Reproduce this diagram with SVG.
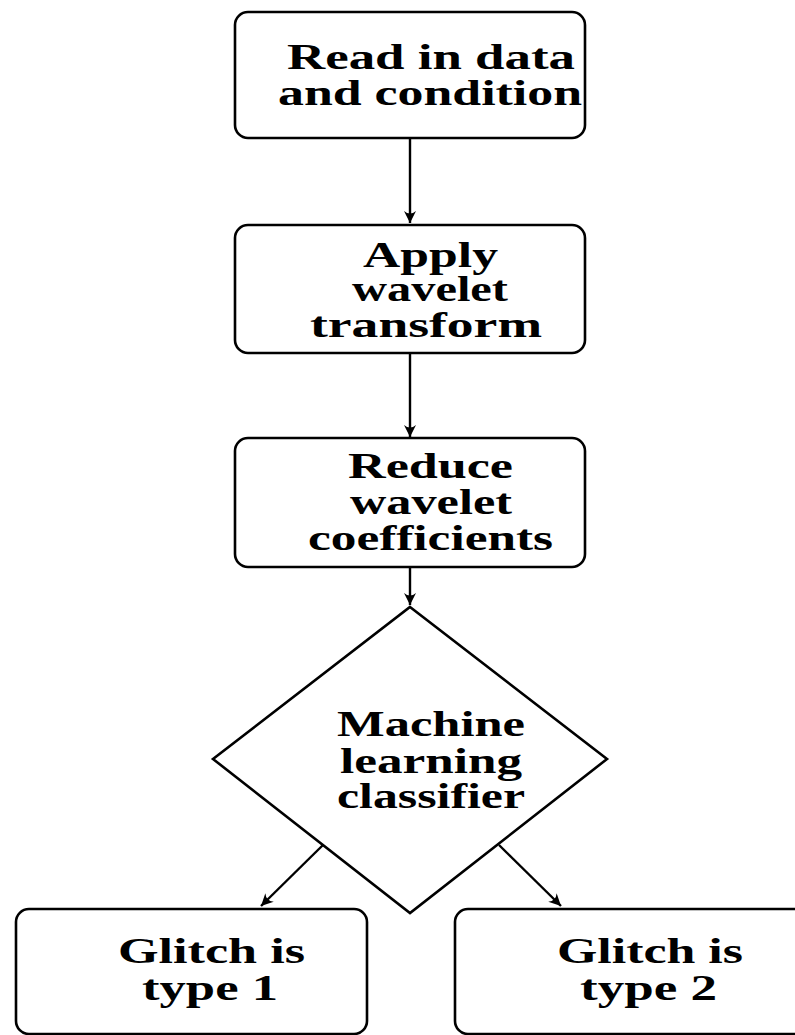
<svg xmlns="http://www.w3.org/2000/svg" width="795" height="1035" viewBox="0 0 795 1035">
<style>
.box{fill:#fff;stroke:#000;stroke-width:2.6}
.t{font-family:"Liberation Serif","Times New Roman",serif;font-weight:bold;font-size:35px;fill:#000}
.c{fill:none;stroke:#000;stroke-width:2.4}
</style>
<defs>
<marker id="ah" viewBox="-13 -7 14 14" markerWidth="14" markerHeight="14" refX="0" refY="0" orient="auto" markerUnits="userSpaceOnUse">
<path d="M0,0 L-12,-6 Q-7,0 -12,6 Z" fill="#000"/>
</marker>
</defs>
<rect width="795" height="1035" fill="#fff"/>
<g id="connectors">
<line class="c" x1="410" y1="138" x2="410" y2="223" marker-end="url(#ah)"/>
<line class="c" x1="410" y1="353" x2="410" y2="437" marker-end="url(#ah)"/>
<line class="c" x1="410" y1="567" x2="410" y2="605" marker-end="url(#ah)"/>
<line class="c" x1="323" y1="845" x2="261" y2="906" marker-end="url(#ah)"/>
<line class="c" x1="499" y1="845" x2="561" y2="906" marker-end="url(#ah)"/>
</g>
<g id="n1">
<rect class="box" x="235" y="12" width="350" height="126" rx="13"/>
<text class="t" x="287" y="69" textLength="288" lengthAdjust="spacingAndGlyphs">Read in data</text>
<text class="t" x="278" y="105" textLength="304" lengthAdjust="spacingAndGlyphs">and condition</text>
</g>
<g id="n2">
<rect class="box" x="235" y="225" width="350" height="128" rx="13"/>
<text class="t" x="363" y="267" textLength="135" lengthAdjust="spacingAndGlyphs">Apply</text>
<text class="t" x="352" y="301" textLength="156" lengthAdjust="spacingAndGlyphs">wavelet</text>
<text class="t" x="310" y="337" textLength="232" lengthAdjust="spacingAndGlyphs">transform</text>
</g>
<g id="n3">
<rect class="box" x="235" y="438" width="350" height="129" rx="13"/>
<text class="t" x="348" y="478" textLength="165" lengthAdjust="spacingAndGlyphs">Reduce</text>
<text class="t" x="350" y="514" textLength="162" lengthAdjust="spacingAndGlyphs">wavelet</text>
<text class="t" x="308" y="550" textLength="245" lengthAdjust="spacingAndGlyphs">coefficients</text>
</g>
<g id="n4">
<polygon class="box" points="410,607 607,759 410,913 213,759"/>
<text class="t" x="337" y="736" textLength="188" lengthAdjust="spacingAndGlyphs">Machine</text>
<text class="t" x="340" y="773" textLength="182" lengthAdjust="spacingAndGlyphs">learning</text>
<text class="t" x="337" y="808" textLength="188" lengthAdjust="spacingAndGlyphs">classifier</text>
</g>
<g id="n5">
<rect class="box" x="16" y="909" width="351" height="125" rx="13"/>
<text class="t" x="118" y="963" textLength="187" lengthAdjust="spacingAndGlyphs">Glitch is</text>
<text class="t" x="142" y="1000" textLength="136" lengthAdjust="spacingAndGlyphs">type 1</text>
</g>
<g id="n6">
<rect class="box" x="455" y="909" width="360" height="125" rx="13"/>
<text class="t" x="557" y="963" textLength="186" lengthAdjust="spacingAndGlyphs">Glitch is</text>
<text class="t" x="580" y="1000" textLength="137" lengthAdjust="spacingAndGlyphs">type 2</text>
</g>
</svg>
